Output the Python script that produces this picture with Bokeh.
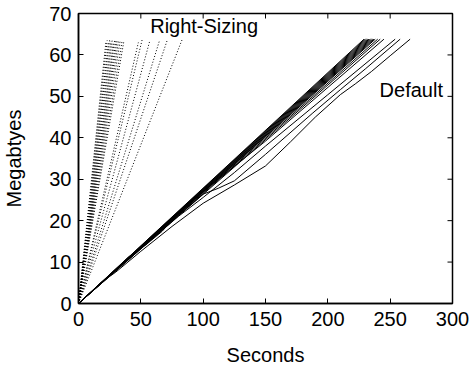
import math
from bokeh.plotting import figure
from bokeh.models import Range1d, FixedTicker, Label
from bokeh.embed import file_html
from bokeh.resources import INLINE

# Right-Sizing transfers (dotted): completion time (s) and final MB
rs_end_time = [22, 23, 24, 25, 26, 27, 28, 29, 30, 31, 32, 33.5, 35, 36.5, 48, 51, 57, 65, 71, 83]
rs_end_mb = [63.2, 63.5, 63.0, 63.6, 63.3, 63.5, 63.1, 63.6, 63.4, 63.5, 63.2, 63.6, 63.4, 63.5,
             63.0, 63.6, 63.2, 63.5, 63.4, 63.6]

# Default transfers (solid), straight ones: completion time (s)
def_end_time = [229, 230, 231, 232, 233, 234, 235, 236, 237, 238, 240, 242]
def_end_mb = 63.8

# Default transfers with irregular progress (time s, MB)
w1_t = [0, 17, 30, 50, 75, 100, 125, 150, 170, 190, 210, 222, 235, 250, 266]
w1_mb = [0, 4.8, 7.6, 12.6, 18.6, 24.2, 28.6, 33.2, 39.0, 45.0, 50.4, 53.0, 56.0, 59.8, 63.8]
w2_t = [0, 50, 75, 100, 112, 125, 150, 188, 210, 230, 258]
w2_mb = [0, 13.5, 20.0, 26.4, 27.8, 29.6, 36.0, 46.0, 51.6, 56.6, 63.8]
w3_t = [0, 60, 80, 100, 125, 150, 200, 254]
w3_mb = [0, 15.8, 21.0, 25.6, 31.6, 38.0, 50.4, 63.8]
w4_t = [0, 40, 55, 67, 80, 90, 150, 245]
w4_mb = [0, 11.2, 14.4, 17.4, 21.8, 24.6, 39.2, 63.8]

x_ticks = [0, 50, 100, 150, 200, 250, 300]
y_ticks = [0, 10, 20, 30, 40, 50, 60, 70]
X_MAX = 300
Y_MAX = 70

FONT = "Liberation Sans"
FS = "20px"

p = figure(width=471, height=368, output_backend="svg", toolbar_location=None,
           x_range=Range1d(0, X_MAX), y_range=Range1d(0, Y_MAX),
           min_border_left=76, min_border_right=19, min_border_top=13, min_border_bottom=65,
           x_axis_label="Seconds", y_axis_label="Megabtyes")
p.grid.visible = False
p.outline_line_color = "black"
p.outline_line_width = 1.5
p.background_fill_color = "white"
p.border_fill_color = "white"

for t, mb in zip(rs_end_time, rs_end_mb):
    p.line([0, t], [0, mb], line_color="black", line_width=1, line_dash="1 2")

for t in def_end_time:
    p.line([0, t], [0, def_end_mb], line_color="black", line_width=1)

for xs, ys in [(w1_t, w1_mb), (w2_t, w2_mb), (w3_t, w3_mb), (w4_t, w4_mb)]:
    p.line(xs, ys, line_color="black", line_width=1)

# mirrored inward ticks on top and right edges
p.ray(x=x_ticks, y=[Y_MAX] * len(x_ticks), length=5, length_units="screen",
      angle=-math.pi / 2, line_color="black", line_width=1)
p.ray(x=[X_MAX] * len(y_ticks), y=y_ticks, length=5, length_units="screen",
      angle=math.pi, line_color="black", line_width=1)

for ax in (p.xaxis[0], p.yaxis[0]):
    ax.major_tick_in = 5
    ax.major_tick_out = 0
    ax.minor_tick_in = 0
    ax.minor_tick_out = 0
    ax.axis_line_color = "black"
    ax.axis_line_width = 1.5
    ax.major_tick_line_color = "black"
    ax.major_label_text_font = FONT
    ax.major_label_text_font_size = FS
    ax.major_label_text_color = "black"
    ax.axis_label_text_font = FONT
    ax.axis_label_text_font_size = FS
    ax.axis_label_text_font_style = "normal"
    ax.axis_label_text_color = "black"

p.xaxis[0].ticker = FixedTicker(ticks=x_ticks)
p.yaxis[0].ticker = FixedTicker(ticks=y_ticks)
p.xaxis[0].major_label_standoff = 8
p.xaxis[0].axis_label_standoff = 15
p.yaxis[0].major_label_standoff = 7
p.yaxis[0].axis_label_standoff = 21

p.add_layout(Label(x=57.5, y=67, text="Right-Sizing", text_font=FONT, text_font_size=FS,
                   text_color="black", text_baseline="middle"))
p.add_layout(Label(x=241.5, y=51.6, text="Default", text_font=FONT, text_font_size=FS,
                   text_color="black", text_baseline="middle"))

open("out.html", "w").write(file_html(p, INLINE))
